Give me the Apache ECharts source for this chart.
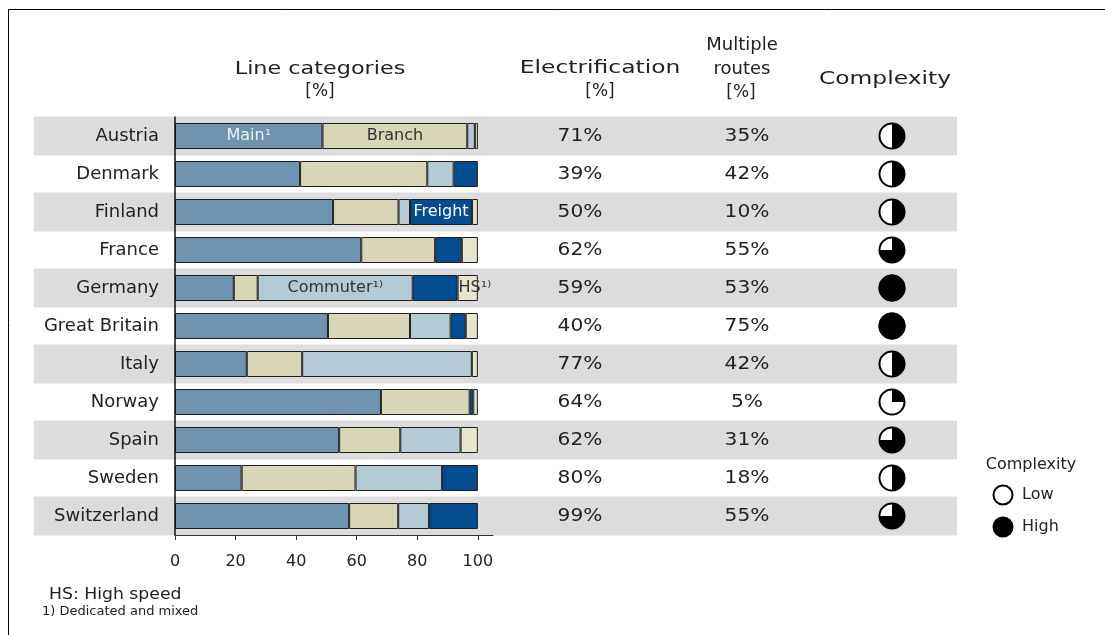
<!DOCTYPE html>
<html>
<head>
<meta charset="utf-8">
<script src="https://cdn.jsdelivr.net/npm/echarts@6/dist/echarts.min.js"></script>
<style>
  html, body { margin: 0; padding: 0; background: #ffffff; }
  #chart { width: 1105px; height: 635px; }
</style>
</head>
<body>
<div id="chart"></div>
<script>
// Railway network profile per country
const countries = ['Austria', 'Denmark', 'Finland', 'France', 'Germany', 'Great Britain',
                   'Italy', 'Norway', 'Spain', 'Sweden', 'Switzerland'];

// Line categories, share of network length [%]
const mainLines      = [48.7, 41.3, 52.2, 61.5, 19.4, 50.5, 23.7, 68.0, 54.2, 22.0, 57.5];
const branchLines    = [47.8, 42.0, 21.6, 24.4,  7.9, 27.1, 18.3, 29.3, 20.2, 37.6, 16.2];
const commuterLines  = [ 2.5,  8.7,  3.8,  0.0, 51.2, 13.4, 56.0,  0.0, 19.9, 28.6, 10.2];
const freightLines   = [ 0.0,  8.0, 20.5,  8.8, 14.8,  5.0,  0.0,  1.2,  0.0, 11.8, 16.1];
const highSpeedLines = [ 1.0,  0.0,  1.9,  5.3,  6.7,  4.0,  2.0,  1.5,  5.7,  0.0,  0.0];

// Electrified share and share of multiple-track routes [%]
const electrification = [71, 39, 50, 62, 59, 40, 77, 64, 62, 80, 99];
const multipleRoutes  = [35, 42, 10, 55, 53, 75, 42,  5, 31, 18, 55];

// Complexity as filled fraction of the Harvey ball
const complexity = [0.5, 0.5, 0.5, 0.75, 1, 1, 0.5, 0.25, 0.75, 0.5, 0.75];

// Axis ticks of the line-category scale
const axisTicks = [0, 20, 40, 60, 80, 100];

// In-bar annotations: [series name, country, text]
const segmentNotes = [
  ['Main', 'Austria', 'Main\u00b9'],
  ['Branch', 'Austria', 'Branch'],
  ['Freight', 'Finland', 'Freight'],
  ['Commuter', 'Germany', 'Commuter\u00b9\u207e'],
  ['HS', 'Germany', 'HS\u00b9\u207e']
];

const FONT = '"DejaVu Sans", Verdana, sans-serif';
const INK = '#222222';

// shared row layout for all table columns
const ROW_TOP = 117;
const ROW_HEIGHT = 418;

const segments = [
  { name: 'Main',     values: mainLines,      color: '#7094ae', labelColor: '#e9eff4', pos: 'inside' },
  { name: 'Branch',   values: branchLines,    color: '#d9d5b8', labelColor: '#333333', pos: 'inside' },
  { name: 'Commuter', values: commuterLines,  color: '#b4cbd6', labelColor: '#333333', pos: 'inside' },
  { name: 'Freight',  values: freightLines,   color: '#034c8f', labelColor: '#ffffff', pos: 'inside' },
  { name: 'HS',       values: highSpeedLines, color: '#e7e4cf', labelColor: '#333333', pos: 'insideLeft' }
];

const barSeries = segments.map(seg => ({
  type: 'bar',
  name: seg.name,
  stack: 'lines',
  xAxisIndex: 0,
  yAxisIndex: 0,
  barWidth: 26,
  z: 3,
  itemStyle: { color: seg.color, borderColor: '#1e1e1e', borderWidth: 1 },
  data: seg.values.map((v, i) => {
    const note = segmentNotes.find(n => n[0] === seg.name && n[1] === countries[i]);
    const item = { value: v === 0 ? '-' : v };
    if (note) {
      item.label = {
        show: true,
        position: seg.pos,
        distance: 1,
        formatter: note[2],
        color: seg.labelColor,
        fontFamily: FONT,
        fontSize: 16
      };
    }
    return item;
  })
}));

function stretchedText(x, y, text, size, sx, align) {
  return {
    type: 'text',
    x: x, y: y,
    scaleX: sx,
    silent: true,
    style: {
      text: text,
      font: size + 'px ' + FONT,
      fill: INK,
      align: align || 'center',
      verticalAlign: 'middle',
      textAlign: align || 'center',
      textVerticalAlign: 'middle'
    }
  };
}

function columnText(suffix, sx) {
  return function (params, api) {
    const p = api.coord([0, api.value(1)]);
    return {
      type: 'text',
      x: p[0], y: p[1],
      scaleX: sx,
      style: {
        text: api.value(2) + suffix,
        font: '18px ' + FONT,
        fill: INK,
        align: 'center', verticalAlign: 'middle',
        textAlign: 'center', textVerticalAlign: 'middle'
      }
    };
  };
}

const hiddenCat = (name, gridIndex) => ({
  type: 'category', gridIndex: gridIndex, data: [name], show: false
});
const hiddenRows = (gridIndex) => ({
  type: 'category', gridIndex: gridIndex, data: countries, inverse: true, show: false
});

const option = {
  backgroundColor: '#ffffff',
  animation: false,
  grid: [
    { left: 175, top: ROW_TOP, width: 318, height: ROW_HEIGHT },   // stacked bars
    { left: 34,  top: ROW_TOP, width: 923, height: ROW_HEIGHT },   // row bands
    { left: 540, top: ROW_TOP, width: 80,  height: ROW_HEIGHT },   // electrification
    { left: 707, top: ROW_TOP, width: 80,  height: ROW_HEIGHT },   // multiple routes
    { left: 852, top: ROW_TOP, width: 80,  height: ROW_HEIGHT }    // complexity
  ],
  xAxis: [
    {
      type: 'value', gridIndex: 0, min: 0, max: 105, interval: 20, z: 5,
      axisLine: { show: true, lineStyle: { color: '#333333', width: 1 } },
      axisTick: { show: true, length: 5, customValues: axisTicks, lineStyle: { color: '#333333' } },
      axisLabel: {
        customValues: axisTicks, margin: 19, fontFamily: FONT, fontSize: 16, color: INK,
        formatter: v => (axisTicks.indexOf(v) >= 0 ? String(v) : '')
      },
      splitLine: { show: false }
    },
    { type: 'value', gridIndex: 1, min: 0, max: 1, show: false },
    hiddenCat('Electrification', 2),
    hiddenCat('Multiple routes', 3),
    hiddenCat('Complexity', 4)
  ],
  yAxis: [
    {
      type: 'category', gridIndex: 0, data: countries, inverse: true, z: 5,
      axisLine: { show: true, lineStyle: { color: '#111111', width: 1.5 } },
      axisTick: { show: false },
      axisLabel: { margin: 16, fontFamily: FONT, fontSize: 18, color: INK }
    },
    hiddenRows(1), hiddenRows(2), hiddenRows(3), hiddenRows(4)
  ],
  series: [
    {
      // alternating grey row bands behind the table
      type: 'custom', xAxisIndex: 1, yAxisIndex: 1, z: 0, silent: true,
      data: countries.map((c, i) => [0, i]),
      renderItem: function (params, api) {
        const i = api.value(1);
        if (i % 2 === 1) return { type: 'group', children: [] };
        const a = api.coord([0, i]);
        const b = api.coord([1, i]);
        return {
          type: 'rect',
          shape: { x: a[0], y: a[1] - 19.5, width: b[0] - a[0], height: 39 },
          style: { fill: '#dcdcdc' }
        };
      }
    },
    ...barSeries,
    {
      type: 'custom', xAxisIndex: 2, yAxisIndex: 2, z: 3, silent: true,
      data: electrification.map((v, i) => [0, i, v]),
      renderItem: columnText('%', 1.12)
    },
    {
      type: 'custom', xAxisIndex: 3, yAxisIndex: 3, z: 3, silent: true,
      data: multipleRoutes.map((v, i) => [0, i, v]),
      renderItem: columnText('%', 1.12)
    },
    {
      // Harvey balls, filled clockwise from twelve o'clock
      type: 'custom', xAxisIndex: 4, yAxisIndex: 4, z: 3, silent: true,
      data: complexity.map((v, i) => [0, i, v]),
      renderItem: function (params, api) {
        const p = api.coord([0, api.value(1)]);
        const f = api.value(2);
        const r = 12.5;
        const children = [{
          type: 'circle', shape: { cx: p[0], cy: p[1], r: r },
          style: { fill: '#ffffff', stroke: '#000000', lineWidth: 2 }
        }];
        if (f >= 1) {
          children.push({ type: 'circle', shape: { cx: p[0], cy: p[1], r: r },
            style: { fill: '#000000', stroke: '#000000', lineWidth: 2 } });
        } else if (f > 0) {
          children.push({ type: 'sector',
            shape: { cx: p[0], cy: p[1], r0: 0, r: r,
              startAngle: -Math.PI / 2, endAngle: -Math.PI / 2 + 2 * Math.PI * f, clockwise: true },
            style: { fill: '#000000' } });
        }
        return { type: 'group', children: children };
      }
    }
  ],
  graphic: [
    {
      type: 'rect', silent: true,
      shape: { x: 8.5, y: 9.5, width: 1200, height: 700 },
      style: { fill: 'none', stroke: '#000000', lineWidth: 1 }
    },
    stretchedText(320, 69, 'Line categories', 18, 1.24),
    stretchedText(320, 92, '[%]', 17, 1.0),
    stretchedText(600, 68, 'Electrification', 18, 1.3),
    stretchedText(600, 92, '[%]', 17, 1.0),
    stretchedText(742, 45, 'Multiple', 18, 1.0),
    stretchedText(742, 69, 'routes', 18, 1.0),
    stretchedText(741, 93, '[%]', 17, 1.0),
    stretchedText(885, 79, 'Complexity', 18, 1.3),

    // complexity key
    stretchedText(1031, 465, 'Complexity', 16, 1.0),
    {
      type: 'circle', silent: true, shape: { cx: 1003, cy: 495, r: 9.5 },
      style: { fill: '#ffffff', stroke: '#000000', lineWidth: 2 }
    },
    stretchedText(1022, 495, 'Low', 16, 1.0, 'left'),
    {
      type: 'circle', silent: true, shape: { cx: 1003, cy: 527, r: 10.5 },
      style: { fill: '#000000' }
    },
    stretchedText(1022, 527, 'High', 16, 1.0, 'left'),

    // footnotes
    stretchedText(49, 595, 'HS: High speed', 15, 1.15, 'left'),
    stretchedText(42, 612, '1) Dedicated and mixed', 13, 1.0, 'left')
  ]
};

const chart = echarts.init(document.getElementById('chart'), null, { renderer: 'canvas' });
chart.setOption(option);
</script>
</body>
</html>
